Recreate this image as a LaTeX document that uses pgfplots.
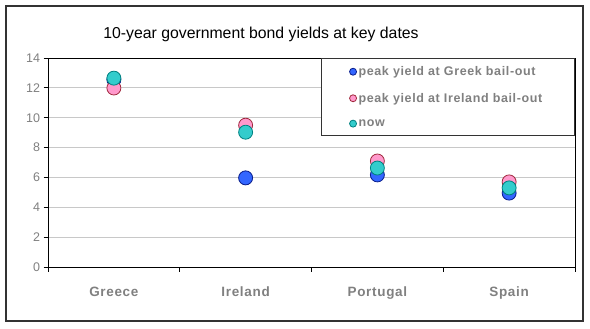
\documentclass[border=0pt]{standalone}
\usepackage{fontspec}
\setmainfont{Liberation Sans}
\newfontfamily\spaced[LetterSpace=5]{Liberation Sans}
\usepackage{pgfplots}
\pgfplotsset{compat=1.18}
\definecolor{tickgray}{HTML}{808080}
\definecolor{gridgray}{HTML}{C8C8C8}
\definecolor{bfill}{HTML}{3366FF}
\definecolor{bedge}{HTML}{0A1E8C}
\definecolor{pfill}{HTML}{FF99CC}
\definecolor{pedge}{HTML}{A0283C}
\definecolor{cfill}{HTML}{33CCCC}
\definecolor{cedge}{HTML}{008080}
\begin{document}
\begin{tikzpicture}
\useasboundingbox (0bp,0bp) rectangle (590bp,329bp);
\draw[line width=1.2bp, black!80] (6bp,8bp) rectangle (583bp,323bp);
\node[font=\fontsize{15.8bp}{18bp}\selectfont] at (261bp,295bp) {10-year government bond yields at key dates};
\begin{axis}[
  at={(48bp,62bp)}, anchor=south west,
  width=527bp, height=209bp, scale only axis,
  xmin=0, xmax=4, ymin=0, ymax=14,
  xtick={0,1,2,3,4}, xticklabels={},
  extra x ticks={0.5,1.5,2.5,3.5},
  extra x tick labels={Greece,Ireland,Portugal,Spain},
  extra x tick style={major tick length=0pt, xmajorgrids=false,
     tick label style={yshift=-16bp, text height=10bp, text depth=3bp, font=\spaced\fontsize{13.5bp}{15bp}\selectfont\bfseries, text=tickgray}},
  ytick={0,2,...,14},
  tick align=outside, tick pos=left,
  major tick length=4.5bp,
  ymajorgrids, grid style={gridgray, line width=0.8bp},
  axis line style={black, line width=0.9bp},
  every tick/.style={black, line width=0.9bp},
  yticklabel style={font=\fontsize{12.5bp}{14bp}\selectfont, text=tickgray},
  /pgf/number format/assume math mode=true,
  clip=false,
  legend style={at={(1,1)}, anchor=north east, draw=black!80, line width=0.9bp,
     font=\spaced\fontsize{12.5bp}{14bp}\selectfont\bfseries, text=tickgray,
     inner xsep=28bp, inner ysep=6bp, row sep=12bp, cells={anchor=west}},
  legend image code/.code={\draw[#1, mark size=3.5bp, line width=0.6bp] plot coordinates {(4bp,0bp)};},
]
\addplot[only marks, mark=*, mark size=7bp, mark options={fill=bfill, draw=bedge, line width=0.8bp}]
  coordinates {(0.5,12.55) (1.5,5.97) (2.5,6.17) (3.5,4.95)};
\addplot[only marks, mark=*, mark size=7bp, mark options={fill=pfill, draw=pedge, line width=0.8bp}]
  coordinates {(0.5,11.99) (1.5,9.5) (2.5,7.1) (3.5,5.7)};
\addplot[only marks, mark=*, mark size=7bp, mark options={fill=cfill, draw=cedge, line width=0.8bp}]
  coordinates {(0.5,12.65) (1.5,9.03) (2.5,6.63) (3.5,5.3)};
\legend{\makebox[186bp][l]{peak yield at Greek bail-out},
        \makebox[186bp][l]{peak yield at Ireland bail-out},
        \makebox[186bp][l]{now}}
\end{axis}
\end{tikzpicture}
\end{document}
